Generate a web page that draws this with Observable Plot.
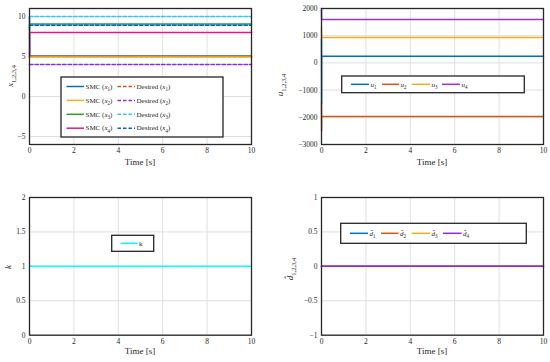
<!DOCTYPE html>
<html><head><meta charset="utf-8">
<script src="https://cdn.jsdelivr.net/npm/d3@7"></script>
<script src="https://cdn.jsdelivr.net/npm/@observablehq/plot@0.6"></script>
<style>
body{margin:0;background:#fff;}
#wrap{position:relative;width:550px;height:362px;overflow:hidden;}
#wrap > div{position:absolute;}
#wrap svg{overflow:visible;display:block;}
</style></head><body><div id="wrap"></div>
<script>
// ---------- data ----------
const time = [0, 0.005, 0.01, 10];
const xTicks = [0, 2, 4, 6, 8, 10];
// panel 1: states
const smcX1 = [10, 7, 5.05, 5.05];
const smcX2 = [4.95, 4.95, 4.95, 4.95];
const smcX3 = [8.3, 9.05, 9.05, 9.05];
const smcX4 = [5, 8, 8, 8];
const desX1 = [5, 5, 5, 5];
const desX2 = [4, 4, 4, 4];
const desX3 = [10, 10, 10, 10];
const desX4 = [8.92, 8.92, 8.92, 8.92];
const yTicks1 = [-5, 0, 5, 10];
// panel 2: control inputs
const u1 = [900, -1500, 240, 240];
const u2 = [-1500, -2500, -1970, -1970];
const u3 = [1300, 930, 930, 930];
const u4 = [2000, 1600, 1600, 1600];
const yTicks2 = [-3000, -2000, -1000, 0, 1000, 2000];
// panel 3: k
const kVals = [1, 1, 1, 1];
const yTicks3 = [0, 0.5, 1, 1.5, 2];
// panel 4: disturbance estimates
const d1 = [0, 0, 0, 0];
const d2 = [0, 0, 0, 0];
const d3v = [0, 0, 0, 0];
const d4 = [0, 0, 0, 0];
const yTicks4 = [-1, -0.5, 0, 0.5, 1];

// ---------- styling ----------
const FONT = "'Liberation Serif','Times New Roman',serif";
const C = {blue:"#0072BD", orange:"#D95319", yellow:"#EDB120", purple:"#8A2BE2",
  green:"#2CA02C", magenta:"#E0198C", cyan:"#2EC5FF", kcyan:"#00FFFF", dblue:"#0060D0", upurple:"#9B30D9"};
const fmt = d => String(d).replace("-", "\u2212");
const NS = "http://www.w3.org/2000/svg";
function el(parent, tag, attrs, text) {
  const e = document.createElementNS(NS, tag);
  for (const k in attrs) if (attrs[k] != null) e.setAttribute(k, attrs[k]);
  if (text != null) e.textContent = text;
  parent.appendChild(e);
  return e;
}

function panel(o) {
  const marks = [
    Plot.gridX({ticks:xTicks, stroke:"#dcdcdc", strokeOpacity:1, strokeWidth:0.9}),
    Plot.gridY({ticks:o.yticks, stroke:"#dcdcdc", strokeOpacity:1, strokeWidth:0.9}),
    ...o.series.map(s => Plot.line(time.map((t, i) => ({t, v: s.values[i]})),
      {x:"t", y:"v", stroke:s.color, strokeWidth:1.5, strokeDasharray:s.dash || null})),
    Plot.frame({stroke:"#262626", strokeWidth:1.3}),
    Plot.axisX({ticks:xTicks, tickSize:0, tickPadding:3, label:null, tickFormat:fmt, fill:"#262626"}),
    Plot.axisY({ticks:o.yticks, tickSize:0, tickPadding:4, label:null, tickFormat:fmt, fill:"#262626"})
  ];
  const chart = Plot.plot({
    width:275, height:181,
    marginLeft:o.ml, marginRight:o.mr, marginTop:o.mt, marginBottom:o.mb,
    x:{domain:[0, 10]}, y:{domain:o.ydomain},
    style:{fontFamily:FONT, fontSize:"7.5px", color:"#262626", background:"#fff", overflow:"visible"},
    marks
  });
  const div = document.createElement("div");
  div.style.left = o.left + "px"; div.style.top = o.top + "px";
  div.appendChild(chart);
  document.getElementById("wrap").appendChild(div);
  const svg = chart;
  // x label
  el(svg, "text", {x:o.ml + (275 - o.ml - o.mr) / 2, y:o.xlabY, "text-anchor":"middle",
    "font-size":9, fill:"#262626", "font-family":FONT}, "Time [s]");
  // y label
  const yl = el(svg, "text", {transform:`translate(${o.ylab[0]},${o.ylab[1]}) rotate(-90)`,
    "text-anchor":"middle", dy:"0.35em", "font-size":9, fill:"#262626", "font-family":FONT});
  writeSegs(yl, o.ylabel, 9);
  // legend
  const L = o.legend;
  const g = el(svg, "g", {"text-anchor":"start"});
  el(g, "rect", {x:L.box[0], y:L.box[1], width:L.box[2] - L.box[0], height:L.box[3] - L.box[1],
    fill:"#fff", stroke:"#262626", "stroke-width":1.3});
  for (const it of L.items) {
    el(g, "line", {x1:it.x1, x2:it.x2, y1:it.y, y2:it.y, stroke:it.color, "stroke-width":1.5,
      "stroke-dasharray":it.dash || null});
    const t = el(g, "text", {x:it.x2 + 1.5, y:it.y, dy:"0.32em", "font-size":7, fill:"#262626",
      "font-family":FONT, "text-anchor":"start"});
    writeSegs(t, it.label, 7);
  }
}
function writeSegs(textEl, segs, fs) {
  let shift = 0;
  for (const s of segs) {
    const sp = el(textEl, "tspan", {}, s.t);
    if (s.i) sp.setAttribute("font-style", "italic");
    const target = s.sub ? fs * 0.3 : 0;
    if (target !== shift) { sp.setAttribute("dy", target - shift); shift = target; }
    if (s.sub) sp.setAttribute("font-size", fs * 0.72);
  }
}
const sub = n => [{t:"x", i:true}, {t:String(n), sub:true}];

// ---------- panel 1 ----------
panel({left:0, top:0, ml:29, mr:24, mt:8, mb:37, ydomain:[-6, 11], yticks:yTicks1,
  series:[
    {values:smcX1, color:C.blue}, {values:desX1, color:C.orange, dash:"3.5,2"},
    {values:smcX2, color:C.yellow}, {values:desX2, color:C.purple, dash:"3.5,2"},
    {values:smcX3, color:C.green}, {values:desX3, color:C.cyan, dash:"3.5,2"},
    {values:smcX4, color:C.magenta}, {values:desX4, color:C.dblue, dash:"3.5,2"}
  ],
  xlabY:165, ylab:[10, 76],
  ylabel:[{t:"x", i:true}, {t:"1,2,3,4", sub:true}],
  legend:{box:[61, 77, 223, 137], items:[1, 2, 3, 4].flatMap((n, i) => {
    const y = 86.5 + i * 13.9;
    const sc = [C.blue, C.yellow, C.green, C.magenta][i];
    const dc = [C.orange, C.purple, C.cyan, C.dblue][i];
    return [
      {x1:66.5, x2:84, y, color:sc, label:[{t:"SMC ("}, ...sub(n), {t:")"}]},
      {x1:117.5, x2:135, y, color:dc, dash:"3.5,2", label:[{t:"Desired ("}, ...sub(n), {t:")"}]}
    ];
  })}
});

// ---------- panel 2 ----------
panel({left:275, top:0, ml:46, mr:7, mt:8, mb:37, ydomain:[-3000, 2000], yticks:yTicks2,
  series:[{values:u1, color:C.blue}, {values:u2, color:C.orange}, {values:u3, color:C.yellow}, {values:u4, color:C.upurple}],
  xlabY:165, ylab:[5, 85],
  ylabel:[{t:"u", i:true}, {t:"1,2,3,4", sub:true}],
  legend:{box:[66.7, 76, 249.3, 92.7], items:[0, 1, 2, 3].map(i => ({
    x1:[76, 107, 136.7, 167][i], x2:[94, 124, 155, 185][i], y:84.3,
    color:[C.blue, C.orange, C.yellow, C.upurple][i],
    label:[{t:"u", i:true}, {t:String(i + 1), sub:true}]}))}
});

// ---------- panel 3 ----------
panel({left:0, top:181, ml:29, mr:24, mt:16, mb:27.3, ydomain:[0, 2], yticks:yTicks3,
  series:[{values:kVals, color:C.kcyan}],
  xlabY:172.5, ylab:[8, 86],
  ylabel:[{t:"k", i:true}],
  legend:{box:[111.7, 54.3, 153.7, 70.3], items:[{x1:120.7, x2:137.5, y:62.3, color:C.kcyan, label:[{t:"k"}]}]}
});

// ---------- panel 4 ----------
panel({left:275, top:181, ml:46, mr:7, mt:16, mb:27.3, ydomain:[-1, 1], yticks:yTicks4,
  series:[{values:d1, color:C.blue}, {values:d2, color:C.orange}, {values:d3v, color:C.yellow}, {values:d4, color:C.purple}],
  xlabY:172.5, ylab:[15, 88],
  ylabel:[{t:"d\u0302", i:true}, {t:"1,2,3,4", sub:true}],
  legend:{box:[65.7, 42.3, 251.3, 62.3], items:[0, 1, 2, 3].map(i => ({
    x1:[75, 106, 136.7, 168][i], x2:[93, 123.5, 155, 186.5][i], y:52.3,
    color:[C.blue, C.orange, C.yellow, C.purple][i],
    label:[{t:"d\u0302", i:true}, {t:String(i + 1), sub:true}]}))}
});
</script></body></html>
